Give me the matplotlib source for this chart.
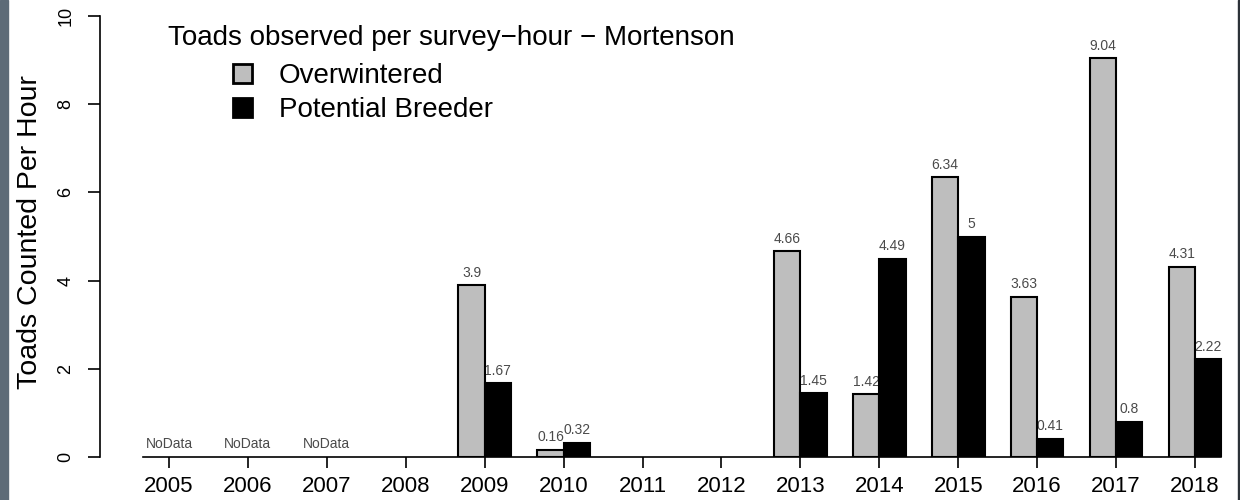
import matplotlib
matplotlib.use("Agg")
import matplotlib.pyplot as plt
from matplotlib.patches import Rectangle
import numpy as np

plt.rcParams['font.family'] = ['Liberation Sans', 'DejaVu Sans']

years = ['2005', '2006', '2007', '2008', '2009', '2010', '2011',
         '2012', '2013', '2014', '2015', '2016', '2017', '2018']
overwintered = [np.nan, np.nan, np.nan, np.nan, 3.9, 0.16, np.nan,
                np.nan, 4.66, 1.42, 6.34, 3.63, 9.04, 4.31]
breeder = [np.nan, np.nan, np.nan, np.nan, 1.67, 0.32, np.nan,
           np.nan, 1.45, 4.49, 5.0, 0.41, 0.8, 2.22]
no_data_years = ['2005', '2006', '2007']

W, H = 1240, 500
fig = plt.figure(figsize=(W / 100, H / 100), dpi=100)
# axes placed in pixel terms: y axis at x=100, y=0 at 457, y=10 at 16
ax = fig.add_axes([100 / W, (H - 457) / H, (W - 100) / W, 441 / H])

# R barplot layout: bar width 1, one bar-width gap between groups
n = len(years)
grp = np.arange(n) * 3
x_ow = grp + 1.5
x_br = grp + 2.5
centres = grp + 2

ow = np.array(overwintered)
br = np.array(breeder)
m_ow = ~np.isnan(ow)
m_br = ~np.isnan(br)

ax.bar(x_ow[m_ow], ow[m_ow], width=1, color='#bebebe',
       edgecolor='black', linewidth=1.5, zorder=3, label='Overwintered')
ax.bar(x_br[m_br], br[m_br], width=1, color='black',
       edgecolor='black', linewidth=1.5, zorder=3, label='Potential Breeder')

# value labels sit under the bars, as in the original
lab_kw = dict(textcoords='offset points', xytext=(0, 9), ha='center',
              va='center', fontsize=10, color='#4a4a4a', zorder=1)
for xo, v in zip(x_ow[m_ow], ow[m_ow]):
    ax.annotate(f'{v:g}', (xo, v), **lab_kw)
for xb, v in zip(x_br[m_br], br[m_br]):
    ax.annotate(f'{v:g}', (xb, v), **lab_kw)
for y in no_data_years:
    ax.annotate('NoData', (centres[years.index(y)], 0), **lab_kw)

ax.set_xlim(-0.623, 42.71)
ax.set_ylim(0, 10)

for s in ['top', 'right']:
    ax.spines[s].set_visible(False)
ax.spines['left'].set_bounds(0, 10)
ax.spines['bottom'].set_bounds(1, 3 * n)
for s in ['left', 'bottom']:
    ax.spines[s].set_linewidth(1.2)

ax.set_xticks(centres)
ax.set_xticklabels(years)
ax.set_yticks([0, 2, 4, 6, 8, 10])
ax.tick_params(axis='x', length=8, width=1.2, labelsize=16, pad=6)
ax.tick_params(axis='y', length=8.5, width=1.2, labelsize=13, pad=16,
               labelrotation=90)
for t in ax.get_yticklabels():
    t.set_ha('center')
    t.set_va('center')

ax.set_ylabel('Toads Counted Per Hour', fontsize=20.5)
ax.yaxis.set_label_coords(-0.05, 0.509)

ax.text(168 / W, 1 - 38 / H, 'Toads observed per survey\u2212hour \u2212 Mortenson',
        transform=fig.transFigure, fontsize=20, ha='left', va='center')
leg = ax.legend(loc='upper left', bbox_to_anchor=(233 / W, 1 - 63 / H),
                bbox_transform=fig.transFigure, frameon=False, fontsize=20,
                handlelength=0.7, handleheight=0.65, handletextpad=0.95,
                labelspacing=0.3, borderpad=0, borderaxespad=0)
for h in leg.legend_handles:
    h.set_linewidth(2)

# screenshot frame edges
fig.patches.append(Rectangle((0, 0), 8 / W, 1, transform=fig.transFigure,
                             color='#5d6b77', zorder=10))
fig.patches.append(Rectangle((1238 / W, 0), 2 / W, 1, transform=fig.transFigure,
                             color='#2b3138', zorder=10))

fig.savefig('out.png', dpi=100)
